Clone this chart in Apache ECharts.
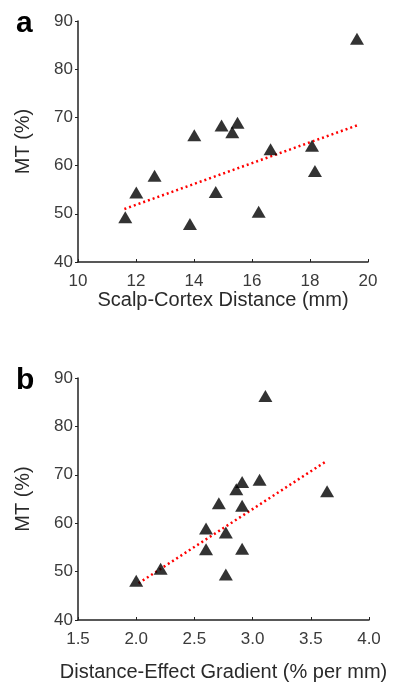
<!DOCTYPE html>
<html>
<head>
<meta charset="utf-8">
<script src="https://cdn.jsdelivr.net/npm/echarts@6/dist/echarts.min.js"></script>
<style>
  html, body { margin: 0; padding: 0; background: #fff; }
  #chart { width: 394px; height: 689px; }
</style>
</head>
<body>
<div id="chart"></div>
<script>
// panel a: scalp-cortex distance (mm) vs MT (%)
const distanceMm = [11.63, 12.01, 12.64, 14.01, 13.86, 14.95, 15.32, 15.5, 14.75, 16.23, 16.64, 18.07, 18.17, 19.62];
const mtA = [49.3, 54.4, 57.9, 66.3, 47.9, 68.3, 66.9, 68.9, 54.5, 50.4, 63.4, 64.1, 58.9, 86.3];
const trendA = [[11.6, 51.0], [19.65, 68.4]];

// panel b: distance-effect gradient (% per mm) vs MT (%)
const gradient = [2.0, 2.21, 2.6, 2.6, 2.77, 2.77, 2.71, 2.91, 2.91, 2.86, 2.91, 3.06, 3.11, 3.64];
const mtB = [48.1, 50.6, 54.6, 58.9, 49.4, 58.1, 64.1, 54.7, 63.6, 67.0, 68.5, 69.0, 86.3, 66.6];
const trendB = [[2.02, 47.6], [3.62, 72.6]];

const font = "'Liberation Sans', Arial, sans-serif";
const zip = (xs, ys) => xs.map((x, i) => [x, ys[i]]);

const axisLine = { show: true, lineStyle: { color: "#222", width: 1.5 } };
const tickLabel = { color: "#3a3a3a", fontSize: 17, fontFamily: font };
const nameStyle = { color: "#2a2a2a", fontSize: 20, fontFamily: font };

function xAxis(gridIndex, min, max, interval, name, nameGap, digits) {
  return {
    type: "value",
    gridIndex,
    min,
    max,
    interval,
    name,
    nameLocation: "middle",
    nameGap,
    nameTextStyle: nameStyle,
    axisLine,
    axisTick: { show: true, inside: true, length: 3, lineStyle: { color: "#222" } },
    axisLabel: { ...tickLabel, margin: 11, formatter: (v) => v.toFixed(digits) },
    splitLine: { show: false },
  };
}

function yAxis(gridIndex) {
  return {
    type: "value",
    gridIndex,
    min: 40,
    max: 90,
    interval: 10,
    name: "MT (%)",
    nameLocation: "middle",
    nameGap: 45,
    nameTextStyle: nameStyle,
    axisLine,
    axisTick: { show: true, length: 3, lineStyle: { color: "#222" } },
    axisLabel: { ...tickLabel, margin: 5 },
    splitLine: { show: false },
  };
}

function points(xAxisIndex, data) {
  return {
    type: "scatter",
    xAxisIndex,
    yAxisIndex: xAxisIndex,
    data,
    symbol: "triangle",
    symbolSize: [14, 12],
    itemStyle: { color: "#000" },
    z: 3,
  };
}

function trend(xAxisIndex, data) {
  return {
    type: "line",
    xAxisIndex,
    yAxisIndex: xAxisIndex,
    data,
    symbol: "none",
    lineStyle: { color: "#ff0000", width: 2.5, type: [2, 3] },
    z: 2,
  };
}

const chart = echarts.init(document.getElementById("chart"));
chart.setOption({
  animation: false,
  textStyle: { fontFamily: font },
  title: [
    { text: "a", left: 11, top: 4, textStyle: { fontSize: 30, fontWeight: "bold", color: "#000", fontFamily: font } },
    { text: "b", left: 11, top: 361, textStyle: { fontSize: 30, fontWeight: "bold", color: "#000", fontFamily: font } },
  ],
  grid: [
    { left: 78, top: 21, width: 290, height: 241 },
    { left: 78, top: 378, width: 291, height: 242 },
  ],
  xAxis: [
    xAxis(0, 10, 20, 2, "Scalp-Cortex Distance (mm)", 25, 0),
    xAxis(1, 1.5, 4.0, 0.5, "Distance-Effect Gradient (% per mm)", 42, 1),
  ],
  yAxis: [yAxis(0), yAxis(1)],
  series: [
    trend(0, trendA),
    points(0, zip(distanceMm, mtA)),
    trend(1, trendB),
    points(1, zip(gradient, mtB)),
  ],
});
</script>
</body>
</html>
